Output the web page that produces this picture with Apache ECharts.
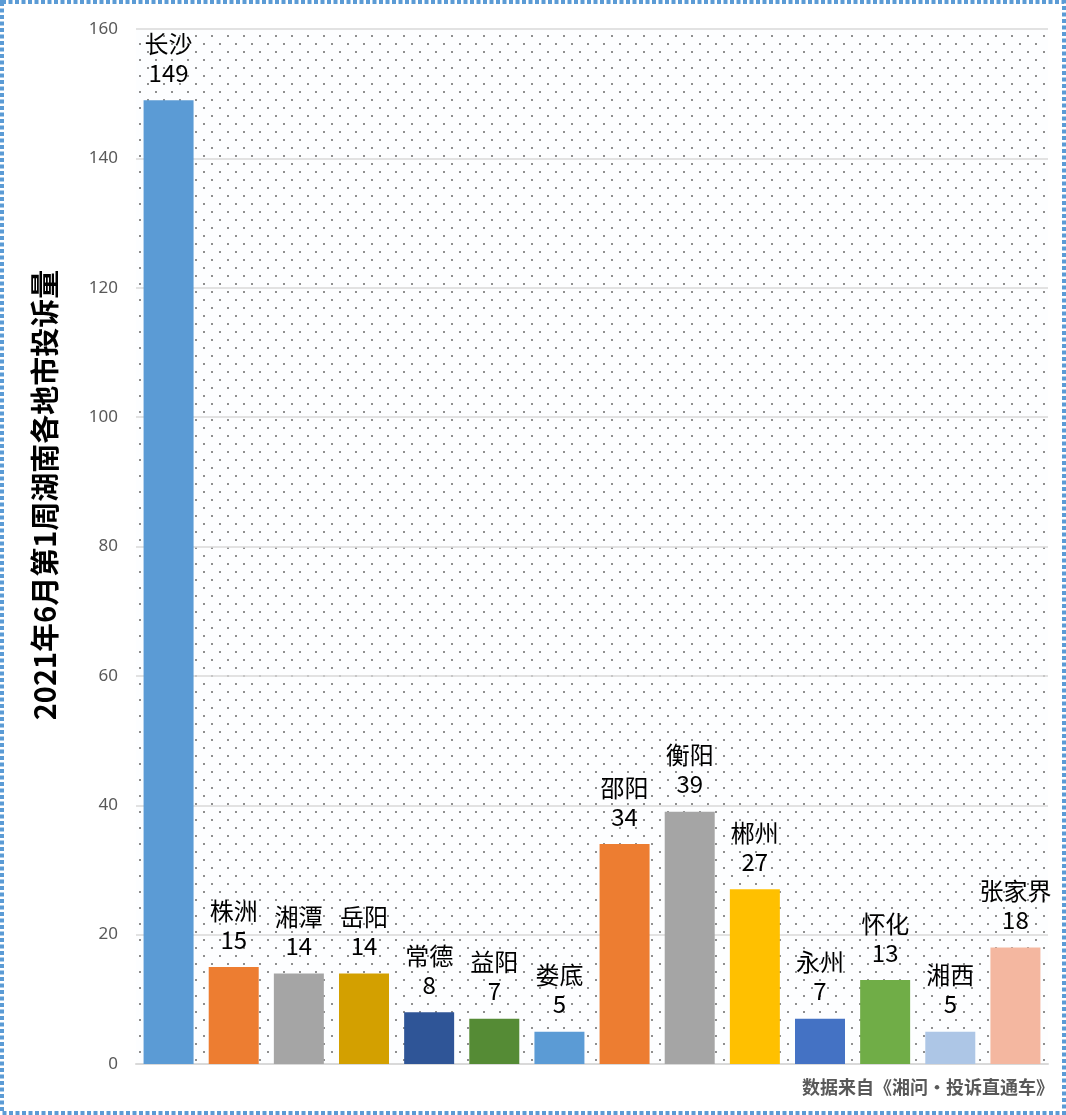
<!DOCTYPE html>
<html>
<head>
<meta charset="utf-8">
<script src="https://cdn.jsdelivr.net/npm/echarts@6/dist/echarts.min.js"></script>
<style>
html,body{margin:0;padding:0;background:#fff;}
#main{width:1066px;height:1115px;}
</style>
</head>
<body>
<div id="main"></div>
<script>
const cities = ['长沙','株洲','湘潭','岳阳','常德','益阳','娄底','邵阳','衡阳','郴州','永州','怀化','湘西','张家界'];
const counts = [149,15,14,14,8,7,5,34,39,27,7,13,5,18];
const barColors = ['#5B9BD5','#ED7D31','#A5A5A5','#D3A000','#2F5597','#558B35','#5B9BD5','#ED7D31','#A5A5A5','#FFC000','#4472C4','#70AD47','#ADC6E6','#F4B7A0'];
const yTicks = [0,20,40,60,80,100,120,140,160];
const titleText = '2021年6月第1周湖南各地市投诉量';
const sourceText = '数据来自《湘问·投诉直通车》';

// dotted background pattern
const pat = document.createElement('canvas');
pat.width = 16; pat.height = 16;
const pc = pat.getContext('2d');
pc.fillStyle = '#FDFEFF';
pc.fillRect(0,0,16,16);
pc.fillStyle = '#8f8f8f';
pc.fillRect(3,3,2,2);
pc.fillRect(11,11,2,2);

const chart = echarts.init(document.getElementById('main'), null, {renderer:'canvas'});
const option = {
  backgroundColor: '#ffffff',
  animation: false,
  grid: {
    left: 136, right: 18, top: 29, bottom: 51,
    show: true,
    backgroundColor: {image: pat, repeat: 'repeat'},
    borderWidth: 0
  },
  xAxis: {
    type: 'category',
    data: cities,
    axisLine: {show: true, lineStyle: {color: '#D9D9D9', width: 2}},
    axisTick: {show: false},
    axisLabel: {show: false}
  },
  yAxis: {
    type: 'value',
    min: yTicks[0], max: yTicks[yTicks.length-1], interval: 20,
    axisLine: {show: false},
    axisTick: {show: false},
    splitLine: {show: true, lineStyle: {color: '#D9D9D9', width: 1.5}},
    axisLabel: {color: '#595959', fontSize: 17, fontFamily: 'Noto Sans', margin: 18}
  },
  series: [{
    type: 'bar',
    data: counts.map((v,i)=>({value:v, itemStyle:{color: barColors[i]}})),
    barWidth: 50,
    label: {
      show: true,
      position: 'top',
      distance: 13,
      formatter: p => p.name + '\n' + p.value,
      color: '#000',
      fontSize: 24,
      lineHeight: 29,
      fontFamily: 'Noto Sans CJK SC',
      align: 'center'
    }
  }],
  graphic: [
    {
      type: 'text',
      x: 45, y: 495,
      rotation: Math.PI/2,
      style: {
        text: titleText,
        font: 'bold 29px "Noto Sans CJK SC"',
        fill: '#000',
        textAlign: 'center',
        textVerticalAlign: 'middle'
      }
    },
    {
      type: 'text',
      right: 12, top: 1078,
      style: {
        text: sourceText,
        font: 'bold 18px "Noto Sans CJK SC"',
        fill: '#595959'
      }
    },
    {
      type: 'rect',
      shape: {x: 2, y: 2, width: 1062, height: 1111},
      style: {fill: 'none', stroke: '#5B9BD5', lineWidth: 4, lineDash: [4, 2.5]},
      z: 100
    }
  ]
};
chart.setOption(option);
</script>
</body>
</html>
